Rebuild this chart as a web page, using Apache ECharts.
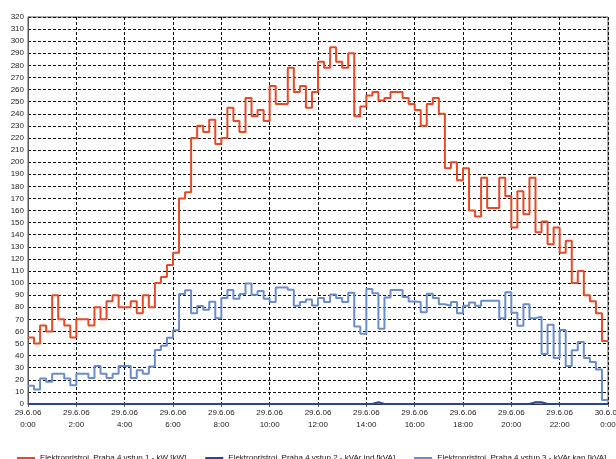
<!DOCTYPE html>
<html>
<head>
  <meta charset="UTF-8">
  <title>Elektropristroj Praha 4</title>
  <style>
    body { margin: 0; background: #fff; }
    #main { width: 616px; height: 459px; }
  </style>
</head>
<body>
  <div id="main"></div>
  <script src="https://cdn.jsdelivr.net/npm/echarts@6/dist/echarts.min.js"></script>
  <script>
    // 15-minute readings, 29.6.06 0:00 .. 23:45
    const seriesNames = [
      'Elektropristroj. Praha 4 vstup 1 - kW [kW]',
      'Elektropristroj. Praha 4 vstup 2 - kVAr ind [kVA]',
      'Elektropristroj. Praha 4 vstup 3 - kVAr kap [kVA]'
    ];

    const kw = [
      55, 50, 65, 60, 90, 70, 65, 55, 70, 70, 65, 80, 70, 85, 90, 80,
      80, 85, 75, 90, 80, 100, 105, 115, 125, 170, 175, 220, 230, 225, 235, 215,
      220, 245, 234, 225, 253, 238, 243, 234, 263, 248, 248, 278, 258, 263, 245, 258,
      283, 278, 295, 283, 278, 290, 238, 246, 255, 258, 251, 253, 258, 258, 253, 248,
      243, 230, 248, 253, 240, 195, 200, 185, 195, 160, 155, 187, 162, 162, 187, 172,
      146, 176, 157, 187, 142, 151, 132, 146, 125, 135, 100, 110, 90, 85, 75, 52
    ];

    const kvarInd = [
      0, 0, 0, 0, 0, 0, 0, 0, 0, 0, 0, 0, 0, 0, 0, 0,
      0, 0, 0, 0, 0, 0, 0, 0, 0, 0, 0, 0, 0, 0, 0, 0,
      0, 0, 0, 0, 0, 0, 0, 0, 0, 0, 0, 0, 0, 0, 0, 0,
      0, 0, 0, 0, 0, 0, 0, 0, 0, 1.5, 0, 0, 0, 0, 0, 0,
      0, 0, 0, 0, 0, 0, 0, 0, 0, 0, 0, 0, 0, 0, 0, 0,
      0, 0, 0, 1.5, 1.5, 0, 0, 0, 0, 0, 0, 0, 0, 0, 0, 0
    ];

    const kvarKap = [
      15, 12, 21, 18.5, 25, 25, 21, 15.5, 25, 25, 21.5, 31.5, 25, 21.5, 25, 31.5,
      31.5, 21.5, 28, 25, 31, 44.6, 48.2, 54.8, 61, 91, 94, 75, 81, 78, 84.5, 71,
      87.6, 94.2, 87, 91, 99.7, 90.4, 93.4, 87, 84.3, 96.4, 96.4, 94.5, 81.3, 84.3, 86.5, 81.5,
      87.6, 84.3, 90.6, 87.6, 84.3, 92, 64, 58, 95, 91.5, 62.3, 88, 94.2, 94.2, 88.4, 84.8,
      84.3, 75.8, 91.2, 87.6, 82.4, 81.3, 84.3, 75, 81.3, 84, 81.3, 85.4, 85.4, 85.4, 71, 92.3,
      75.5, 64.7, 82.4, 71, 72.2, 41.3, 65.6, 38, 61.2, 31.4, 44.4, 51.2, 38, 34.7, 28.6, 3.3
    ];

    const hourTicks = [0, 2, 4, 6, 8, 10, 12, 14, 16, 18, 20, 22, 24];
    const tickLabels = [
      '29.6.06\n0:00', '29.6.06\n2:00', '29.6.06\n4:00', '29.6.06\n6:00',
      '29.6.06\n8:00', '29.6.06\n10:00', '29.6.06\n12:00', '29.6.06\n14:00',
      '29.6.06\n16:00', '29.6.06\n18:00', '29.6.06\n20:00', '29.6.06\n22:00',
      '30.6.06\n0:00'
    ];

    const colors = ['#e64a26', '#27478f', '#6a8dcc'];

    // step points: each value holds for 15 minutes, close the last step at 24:00
    function toSteps(vals) {
      const pts = vals.map((v, i) => [i * 0.25, v]);
      pts.push([24, vals[vals.length - 1]]);
      return pts;
    }

    const font = 'Liberation Sans, Arial, sans-serif';
    const dash = { color: '#111', type: [3, 2], width: 1 };

    const chart = echarts.init(document.getElementById('main'));
    chart.setOption({
      animation: false,
      color: colors,
      textStyle: { fontFamily: font },
      grid: {
        left: 28, right: 8, top: 17, bottom: 55,
        outerBoundsMode: 'none',
        show: true, borderColor: '#555', borderWidth: 1
      },
      legend: {
        top: 449,
        left: 12,
        width: 604,
        itemWidth: 18,
        itemHeight: 10,
        itemGap: 19,
        icon: 'path://M0,4 L18,4 L18,6 L0,6 Z',
        textStyle: { fontSize: 8, color: '#111', fontFamily: font },
        data: seriesNames
      },
      xAxis: {
        type: 'value',
        min: 0, max: 24, interval: 2,
        axisLine: { show: true, lineStyle: { color: '#333' } },
        axisTick: { show: true, length: 3, lineStyle: { color: '#666' } },
        axisLabel: {
          fontSize: 8, color: '#222', margin: 3, lineHeight: 12,
          showMaxLabel: true, hideOverlap: false,
          formatter: v => tickLabels[hourTicks.indexOf(v)]
        },
        splitLine: { show: true, lineStyle: dash }
      },
      yAxis: {
        type: 'value',
        min: 0, max: 320, interval: 10,
        axisLine: { show: true, lineStyle: { color: '#555' } },
        axisTick: { show: false },
        axisLabel: { fontSize: 8, color: '#222', margin: 4 },
        splitLine: { show: true, lineStyle: dash }
      },
      series: [
        { name: seriesNames[0], data: toSteps(kw), z: 4 },
        { name: seriesNames[1], data: toSteps(kvarInd), z: 3 },
        { name: seriesNames[2], data: toSteps(kvarKap), z: 2 }
      ].map(s => Object.assign({
        type: 'line', step: 'end', showSymbol: false, symbol: 'none',
        lineStyle: { width: 2 }
      }, s))
    });
  </script>
</body>
</html>
